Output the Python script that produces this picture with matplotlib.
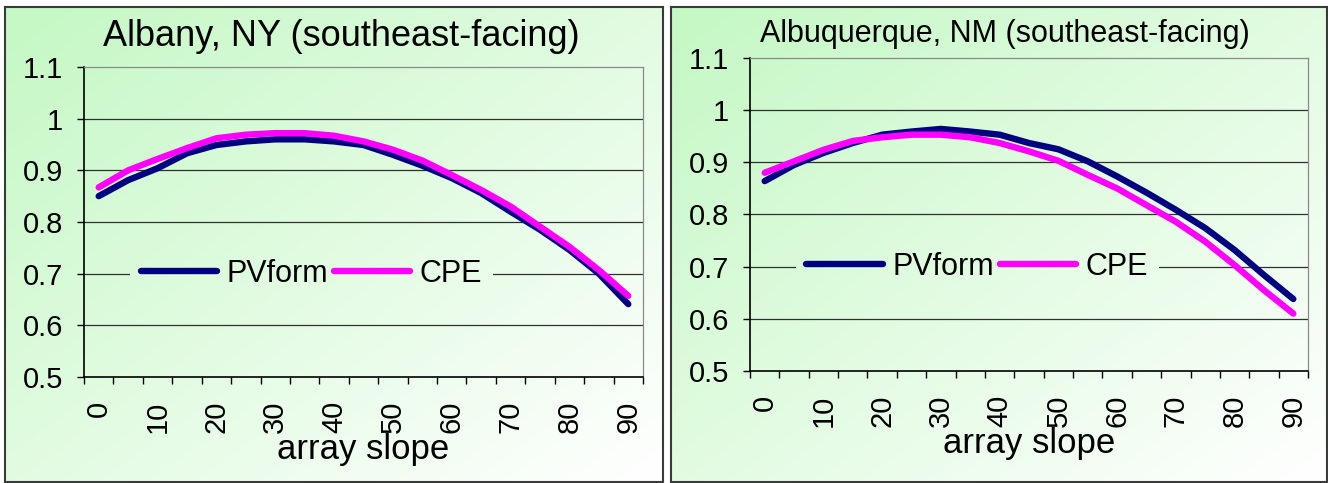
import numpy as np
import matplotlib
matplotlib.use("Agg")
import matplotlib.pyplot as plt
from matplotlib.colors import LinearSegmentedColormap

plt.rcParams['font.family'] = ['Liberation Sans', 'DejaVu Sans']

# array slope categories (degrees) and normalised output for each model
slopes = [0, 5, 10, 15, 20, 25, 30, 35, 40, 45, 50, 55, 60, 65, 70, 75, 80, 85, 90]

albany_pvform = [0.850, 0.881, 0.904, 0.933, 0.949, 0.956, 0.960, 0.960, 0.956, 0.949,
                 0.930, 0.909, 0.885, 0.856, 0.820, 0.785, 0.746, 0.700, 0.641]
albany_cpe = [0.867, 0.900, 0.922, 0.943, 0.962, 0.969, 0.972, 0.972, 0.967, 0.956,
              0.940, 0.919, 0.891, 0.862, 0.830, 0.791, 0.752, 0.707, 0.657]

abq_pvform = [0.864, 0.895, 0.918, 0.937, 0.953, 0.959, 0.964, 0.959, 0.953, 0.937,
              0.925, 0.902, 0.873, 0.842, 0.809, 0.774, 0.732, 0.684, 0.638]
abq_cpe = [0.880, 0.902, 0.924, 0.941, 0.948, 0.953, 0.953, 0.948, 0.937, 0.921,
           0.903, 0.876, 0.850, 0.818, 0.786, 0.748, 0.703, 0.655, 0.610]

yticks = [0.5, 0.6, 0.7, 0.8, 0.9, 1.0, 1.1]
ytick_labels = ['0.5', '0.6', '0.7', '0.8', '0.9', '1', '1.1']

W, H = 1328, 483
fig = plt.figure(figsize=(W / 100, H / 100), dpi=100)

def rect(x0, y0, x1, y1):
    # pixel box (top-left origin) -> figure fraction
    return [x0 / W, 1 - y1 / H, (x1 - x0) / W, (y1 - y0) / H]

green = LinearSegmentedColormap.from_list('bg', ['#c4f8c4', '#ffffff'])

def shade(box, px, py):
    # diagonal gradient value for pixel coords (top-left origin) inside a panel
    x0, y0, x1, y1 = box
    return ((px - x0) / (x1 - x0) + (py - y0) / (y1 - y0)) / 2

panels = [
    dict(box=(5, 7, 663, 482), plot=(84, 67, 643, 377),
         title='Albany, NY (southeast-facing)', tpos=(341, 37), tsize=26,
         pv=albany_pvform, cpe=albany_cpe),
    dict(box=(671, 7, 1327, 482), plot=(750, 58, 1308, 371),
         title='Albuquerque, NM (southeast-facing)', tpos=(1005, 34), tsize=22,
         pv=abq_pvform, cpe=abq_cpe),
]

x = np.arange(len(slopes))
made = []

for p in panels:
    bx0, by0, bx1, by1 = p['box']
    bg = fig.add_axes(rect(*p['box']))
    gx, gy = np.meshgrid(np.linspace(bx0, bx1, 300), np.linspace(by0, by1, 300))
    bg.imshow(shade(p['box'], gx, gy), cmap=green, vmin=0, vmax=1,
              aspect='auto', extent=(0, 1, 0, 1), origin='upper')
    bg.set_xticks([])
    bg.set_yticks([])
    for s in bg.spines.values():
        s.set_color('#3a3a3a')
        s.set_linewidth(1.5)

    fig.text(p['tpos'][0] / W, 1 - p['tpos'][1] / H, p['title'],
             ha='center', va='center', fontsize=p['tsize'])

    ax = fig.add_axes(rect(*p['plot']))
    ax.set_facecolor('none')
    ax.set_xlim(-0.5, len(slopes) - 0.5)
    ax.set_ylim(0.5, 1.1)

    for yv in yticks[1:-1]:
        ax.axhline(yv, color='#303030', lw=0.9, zorder=1)

    ax.plot(x, p['pv'], color='#000080', lw=4.6, solid_capstyle='round',
            solid_joinstyle='round', label='PVform', zorder=3)
    ax.plot(x, p['cpe'], color='#ff00ff', lw=4.6, solid_capstyle='round',
            solid_joinstyle='round', label='CPE', zorder=3)

    ax.spines['left'].set_color('black')
    ax.spines['bottom'].set_color('black')
    ax.spines['left'].set_linewidth(1.2)
    ax.spines['bottom'].set_linewidth(1.2)
    ax.spines['top'].set_color('#8a8a8a')
    ax.spines['right'].set_color('#8a8a8a')
    ax.spines['top'].set_linewidth(0.9)
    ax.spines['right'].set_linewidth(0.9)

    ax.set_yticks(yticks)
    ax.set_yticklabels(ytick_labels, fontsize=21)
    ax.tick_params(axis='y', direction='out', length=5, width=1, pad=10)

    # category labels every 10 degrees, tick marks between categories
    lab_pos = [i for i, s in enumerate(slopes) if s % 10 == 0]
    ax.set_xticks(lab_pos)
    ax.set_xticklabels([str(slopes[i]) for i in lab_pos], rotation=90, fontsize=21)
    ax.set_xticks(np.arange(len(slopes) + 1) - 0.5, minor=True)
    ax.tick_params(axis='x', which='major', length=0, pad=17)
    ax.tick_params(axis='x', which='minor', direction='out', length=5, width=1)
    ax.set_xlabel('array slope', fontsize=25, labelpad=0)

    leg = ax.legend(loc='center left', bbox_to_anchor=(0.082, 1 / 3), ncol=2,
                    frameon=True, fontsize=22, handlelength=2.5, handletextpad=0.3,
                    columnspacing=0.2, borderpad=0.35, borderaxespad=0)
    leg.get_frame().set_facecolor('none')
    leg.get_frame().set_edgecolor('none')
    made.append((p, ax, leg))

# legend backgrounds: fill the legend box with the same panel gradient so it
# hides the gridline behind it without showing a visible patch
fig.canvas.draw()
for p, ax, leg in made:
    bb = leg.get_frame().get_window_extent()
    px = np.linspace(bb.x0, bb.x1, 200)
    py = np.linspace(H - bb.y1, H - bb.y0, 40)
    gx, gy = np.meshgrid(px, py)
    img = green(shade(p['box'], gx, gy))
    inv = ax.transData.inverted()
    (dx0, dy0), (dx1, dy1) = inv.transform([(bb.x0, bb.y0), (bb.x1, bb.y1)])
    xl, yl = ax.get_xlim(), ax.get_ylim()
    ax.imshow(img, extent=(dx0, dx1, dy0, dy1), origin='upper', aspect='auto',
              zorder=2, interpolation='bilinear')
    ax.set_xlim(xl)
    ax.set_ylim(yl)

fig.savefig('out.png', dpi=100)
